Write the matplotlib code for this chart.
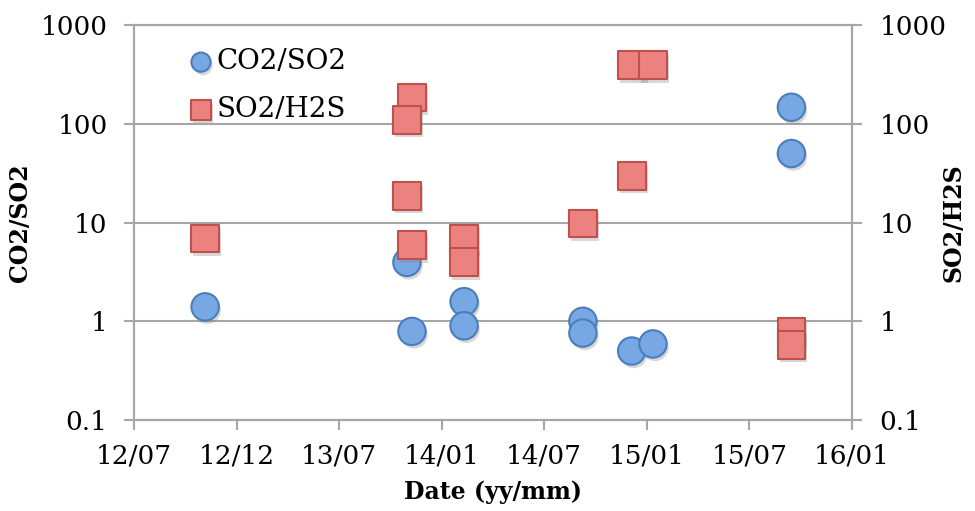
import datetime as dt

import matplotlib
matplotlib.use("Agg")
import matplotlib.dates as mdates
import matplotlib.patheffects as pe
import matplotlib.pyplot as plt

# CO2/SO2 ratios (left axis)
co2_dates = ["2012-11-05", "2013-10-31", "2013-11-09", "2014-02-10", "2014-02-10",
             "2014-09-10", "2014-09-10", "2014-12-06", "2015-01-13", "2015-09-17",
             "2015-09-17"]
co2_so2 = [1.4, 3.95, 0.79, 1.58, 0.9, 1.0, 0.76, 0.5, 0.59, 147, 50]

# SO2/H2S ratios (right axis)
so2_dates = ["2012-11-05", "2013-11-09", "2013-10-31", "2013-10-31", "2013-11-09",
             "2014-02-10", "2014-02-10", "2014-09-10", "2014-12-06", "2014-12-06",
             "2015-01-13", "2015-09-17", "2015-09-17"]
so2_h2s = [6.9, 185, 109, 18.6, 5.9, 6.9, 3.95, 9.8, 29.6, 392, 392, 0.79, 0.58]

y_ticks = [0.1, 1, 10, 100, 1000]
y_labels = ["0.1", "1", "10", "100", "1000"]

# excel-style date axis: starts 2012-07-01, major unit 183 days
x_start = dt.datetime(2012, 7, 1)
major_days = 183
n_ticks = 8

plt.rcParams["font.family"] = ["DejaVu Serif"]
gray = "#a6a6a6"

fig = plt.figure(figsize=(9.75, 5.11), dpi=100)
ax = fig.add_axes([0.1374, 0.178, 0.7364, 0.773])
ax2 = ax.twinx()

co2_x = mdates.date2num([dt.datetime.strptime(d, "%Y-%m-%d") for d in co2_dates])
so2_x = mdates.date2num([dt.datetime.strptime(d, "%Y-%m-%d") for d in so2_dates])
shadow = [pe.SimplePatchShadow(offset=(1.5, -2.5), shadow_rgbFace="#808080", alpha=0.3),
          pe.Normal()]

h1 = ax.scatter(co2_x, co2_so2, s=390, marker="o", facecolor="#78a8e4",
                edgecolor="#4a7ebb", linewidth=1.5, zorder=3, label="CO2/SO2",
                path_effects=shadow)
h2 = ax2.scatter(so2_x, so2_h2s, s=400, marker="s", facecolor="#ec827f",
                 edgecolor="#c0504d", linewidth=1.5, zorder=3, label="SO2/H2S",
                 path_effects=shadow)

x0 = mdates.date2num(x_start)
xticks = [x0 + major_days * k for k in range(n_ticks)]
for a in (ax, ax2):
    a.set_yscale("log")
    a.set_ylim(0.1, 1000)
    a.set_yticks(y_ticks)
    a.set_yticklabels(y_labels)
    a.minorticks_off()
    a.set_xlim(xticks[0], xticks[-1])
    for side in ("left", "right", "bottom", "top"):
        a.spines[side].set_color(gray)
        a.spines[side].set_linewidth(1.5)
    a.tick_params(axis="both", colors=gray, labelcolor="black", labelsize=19,
                  length=7, width=1.5)

ax.set_xticks(xticks)
ax.xaxis.set_major_formatter(mdates.DateFormatter("%y/%m"))
ax.tick_params(axis="x", pad=10)
ax.tick_params(axis="y", pad=12)
ax2.tick_params(axis="y", pad=13)
ax.grid(axis="y", color=gray, linewidth=1.5)
ax.set_axisbelow(True)

ax.set_xlabel("Date (yy/mm)", fontsize=17, fontweight="bold")
ax.set_ylabel("CO2/SO2", fontsize=17, fontweight="bold")
ax2.set_ylabel("SO2/H2S", fontsize=17, fontweight="bold")
ax.xaxis.set_label_coords(0.5, -0.152)
ax.yaxis.set_label_coords(-0.142, 0.5)
ax2.yaxis.set_label_coords(1.125, 0.5)

ax2.legend(handles=[h1, h2], loc="upper left", bbox_to_anchor=(0.045, 0.99),
           frameon=False, fontsize=20, markerscale=0.7, handletextpad=0.0,
           labelspacing=0.75, handlelength=1.1, borderpad=0.2)

fig.savefig("out.png", dpi=100)
